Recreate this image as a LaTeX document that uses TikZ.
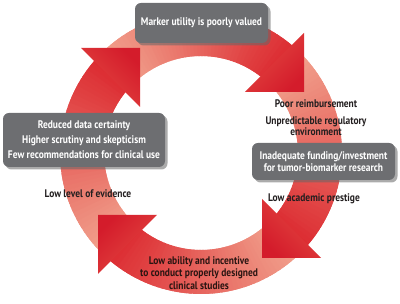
\documentclass[tikz,border=0pt]{standalone}
\usepackage{fontspec}
\setmainfont{PT Sans}[FakeStretch=0.86]
\usetikzlibrary{shadows}
\definecolor{boxgray}{HTML}{6D6E71}
\definecolor{arrowpale}{HTML}{F2A590}
\definecolor{arrowred}{HTML}{DC2A30}
\definecolor{headdark}{HTML}{D41C2B}
\definecolor{headlight}{HTML}{E44A42}
\definecolor{labelc}{HTML}{231F20}
\definecolor{botlabel}{HTML}{2A1512}
\newcommand\shaftarc[2]{%
  \foreach \i in {0,...,47}{%
    \pgfmathsetmacro\sa{#1-(#1-#2)*\i/48}%
    \pgfmathsetmacro\ea{#1-(#1-#2)*(\i+1.8)/48}%
    \pgfmathtruncatemacro\p{round(100*\i/47)}%
    \fill[arrowred!\p!arrowpale] (\sa:141pt) arc[start angle=\sa, end angle=\ea, radius=141pt]
      -- (\ea:97pt) arc[start angle=\ea, end angle=\sa, radius=97pt] -- cycle;
  }}
\tikzset{
  boxst/.style={fill=boxgray, rounded corners=6pt, text=white, align=center, inner sep=0pt,
    font=\bfseries\fontsize{11}{12}\selectfont,
    drop shadow={shadow xshift=2.5pt, shadow yshift=-2.5pt, fill=black!60, opacity=0.55}},
  lbl/.style={text=labelc, align=center, inner sep=0pt, font=\bfseries\fontsize{11}{10.5}\selectfont},
  headst/.style={top color=headdark, bottom color=headlight},
}
\begin{document}
\begin{tikzpicture}[x=1pt,y=1pt]
\useasboundingbox (0,0) rectangle (400,304);
% ring shafts
\begin{scope}[shift={(201,151)}]
  \shaftarc{228}{136}
  \shaftarc{138}{46}
  \shaftarc{48}{-44}
  \shaftarc{318}{226}
\end{scope}
% arrow heads
\shade[headst, shading angle=-45] (140,256) -- (81,256) -- (140,197) -- cycle;
\shade[headst, shading angle=-135] (304,212) -- (304,271) -- (245,212) -- cycle;
\shade[headst, shading angle=135] (262,46) -- (262,105) -- (321,46) -- cycle;
\shade[headst, shading angle=45] (98,89) -- (157,89) -- (98,30) -- cycle;
% boxes
\node[boxst, minimum width=133pt, minimum height=40pt] (topbox) at (201.5,281) {Marker utility is poorly valued};
\node[boxst, minimum width=162pt, minimum height=54pt, font=\bfseries\fontsize{11}{15}\selectfont] (leftbox) at (84,164) {Reduced data certainty\\Higher scrutiny and skepticism\\Few recommendations for clinical use};
\node[boxst, minimum width=143pt, minimum height=37pt] (rightbox) at (323.5,142.5) {Inadequate funding/investment\\for tumor-biomarker research};
% labels
\node[lbl] (poor) at (316,200) {Poor reimbursement};
\node[lbl] (unpred) at (316,178) {Unpredictable regulatory\\environment};
\node[lbl] (prestige) at (314,105) {Low academic prestige};
\node[lbl] (evidence) at (88,110) {Low level of evidence};
\node[lbl, text=botlabel, font=\bfseries\fontsize{11}{12.5}\selectfont] (ability) at (199,31) {Low ability and incentive\\to conduct properly designed\\clinical studies};
\end{tikzpicture}
\end{document}
